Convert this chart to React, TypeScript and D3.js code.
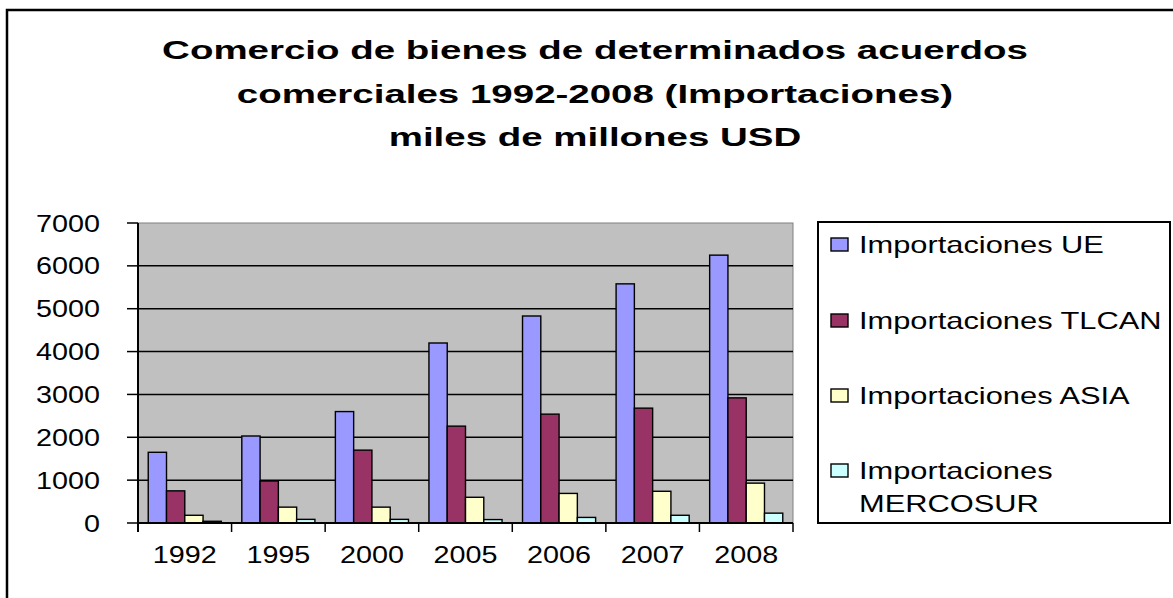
import React from "react";
import * as d3 from "d3";

const years = ["1992", "1995", "2000", "2005", "2006", "2007", "2008"];
const seriesNames = [
  "Importaciones UE",
  "Importaciones TLCAN",
  "Importaciones ASIA",
  "Importaciones MERCOSUR",
];
const ue = [1650, 2030, 2600, 4200, 4830, 5580, 6250];
const tlcan = [750, 980, 1700, 2260, 2540, 2680, 2920];
const asia = [180, 370, 370, 600, 690, 740, 930];
const mercosur = [40, 85, 85, 80, 130, 180, 230];
const yTicks = [0, 1000, 2000, 3000, 4000, 5000, 6000, 7000];
const titleLines = [
  "Comercio de bienes de determinados acuerdos",
  "comerciales 1992-2008 (Importaciones)",
  "miles de millones USD",
];

const colors = ["#9999FF", "#993366", "#FFFFCC", "#CCFFFF"];
const FONT = "'Liberation Sans', Arial, sans-serif";

const W = 1173;
const H = 598;
const plot = { left: 138, right: 793, top: 223, bottom: 523 };

// the picture's text is stretched sideways, so text gets a horizontal scale
const T = ({ x, y, size, sx = 1.25, anchor = "start", weight = "normal", children }: any) => (
  <text
    transform={`translate(${x},${y}) scale(${sx},1)`}
    fontFamily={FONT}
    fontSize={size}
    fontWeight={weight}
    textAnchor={anchor}
    fill="#000"
  >
    {children}
  </text>
);

const App = () => {
  const allSeries = [ue, tlcan, asia, mercosur];

  const x = d3.scaleBand().domain(years).range([plot.left, plot.right]).padding(0);
  const xInner = d3
    .scaleBand()
    .domain(seriesNames)
    .range([0, x.bandwidth()])
    .paddingInner(0)
    .paddingOuter(0.56);
  const y = d3.scaleLinear().domain([0, 7000]).range([plot.bottom, plot.top]);

  // legend wraps long names onto two lines
  const legendRows = seriesNames.map((n) =>
    n.length > 20 ? [n.slice(0, n.lastIndexOf(" ")), n.slice(n.lastIndexOf(" ") + 1)] : [n]
  );
  const legendBaselines = [253, 329, 404, 479];

  return (
    <svg
      width={W}
      height={H}
      style={{ position: "absolute", left: 0, top: 0, background: "#fff" }}
    >
      {/* outer frame */}
      <rect x={7} y={10} width={W + 20} height={H + 20} fill="none" stroke="#000" strokeWidth={2.5} />

      {/* title */}
      {titleLines.map((t, i) => (
        <T key={i} x={595} y={59 + i * 43.5} size={26} sx={1.48} anchor="middle" weight="bold">
          {t}
        </T>
      ))}

      {/* plot area */}
      <rect
        x={plot.left}
        y={plot.top}
        width={plot.right - plot.left}
        height={plot.bottom - plot.top}
        fill="#C0C0C0"
        stroke="#808080"
        strokeWidth={1}
      />

      {/* grid lines */}
      {yTicks.slice(1, -1).map((v) => (
        <line key={v} x1={plot.left} x2={plot.right} y1={y(v)} y2={y(v)} stroke="#000" strokeWidth={1.5} />
      ))}

      {/* bars */}
      {allSeries.map((vals, si) =>
        vals.map((v, i) => (
          <rect
            key={`${si}-${i}`}
            x={(x(years[i]) as number) + (xInner(seriesNames[si]) as number)}
            y={y(v)}
            width={xInner.bandwidth()}
            height={y(0) - y(v)}
            fill={colors[si]}
            stroke="#000"
            strokeWidth={1.4}
          />
        ))
      )}

      {/* y axis */}
      <line x1={plot.left} x2={plot.left} y1={plot.top} y2={plot.bottom + 9} stroke="#000" strokeWidth={2} />
      {yTicks.map((v) => (
        <g key={v}>
          <line x1={plot.left - 11} x2={plot.left} y1={y(v)} y2={y(v)} stroke="#000" strokeWidth={1.5} />
          <T x={100} y={y(v) + 8.5} size={23} anchor="end">
            {v}
          </T>
        </g>
      ))}

      {/* x axis */}
      <line x1={plot.left} x2={plot.right} y1={plot.bottom} y2={plot.bottom} stroke="#000" strokeWidth={2} />
      {[...years.map((d) => x(d) as number), plot.right].map((px, i) => (
        <line key={i} x1={px} x2={px} y1={plot.bottom} y2={plot.bottom + 9} stroke="#000" strokeWidth={1.5} />
      ))}
      {years.map((d) => (
        <T key={d} x={(x(d) as number) + x.bandwidth() / 2} y={563} size={23} anchor="middle">
          {d}
        </T>
      ))}

      {/* legend */}
      <rect x={818} y={222} width={352} height={301} fill="#fff" stroke="#000" strokeWidth={2} />
      {legendRows.map((rows, i) => (
        <g key={i}>
          <rect
            x={831}
            y={legendBaselines[i] - 15}
            width={17}
            height={13}
            fill={colors[i]}
            stroke="#000"
            strokeWidth={1.4}
          />
          {rows.map((r, j) => (
            <T key={j} x={859} y={legendBaselines[i] + j * 33} size={23} sx={1.34}>
              {r}
            </T>
          ))}
        </g>
      ))}
    </svg>
  );
};

export default App;
